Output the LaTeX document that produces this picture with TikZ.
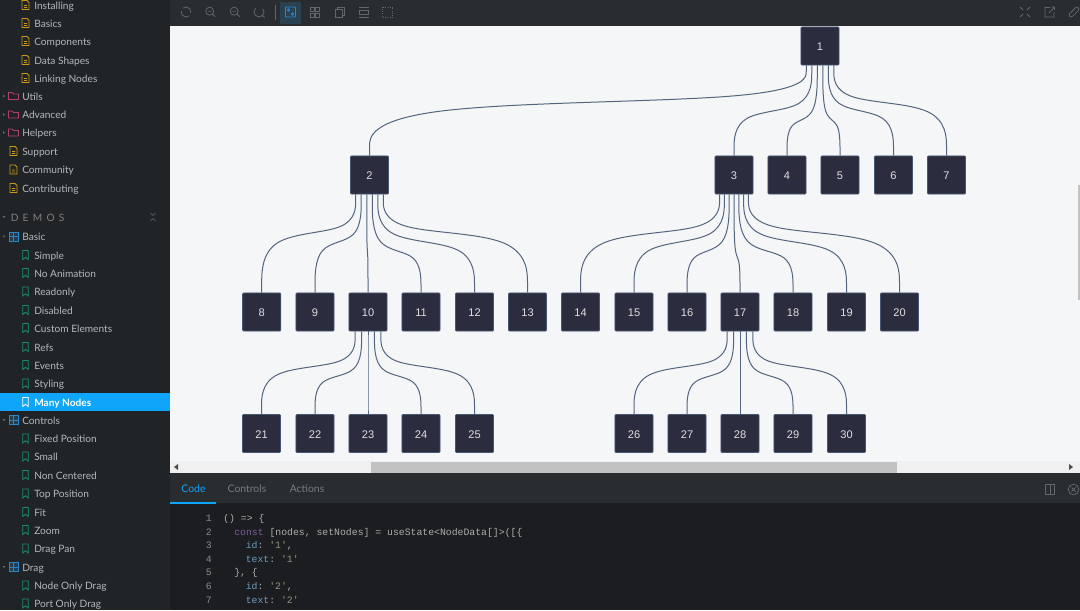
\documentclass[tikz,border=0pt]{standalone}
\usepackage{fontspec}
\setmainfont{Lato}
\setmonofont{Liberation Mono}
\newfontfamily\boxfont{Liberation Sans}
\usetikzlibrary{calc}

\definecolor{sidebg}{HTML}{212427}
\definecolor{barbg}{HTML}{2A2D2F}
\definecolor{codebg}{HTML}{1B1D20}
\definecolor{canvasbg}{HTML}{F5F6F8}
\definecolor{sidetxt}{HTML}{B4B8BC}
\definecolor{tabtxt}{HTML}{777C80}
\definecolor{hilite}{HTML}{0EA5FA}
\definecolor{boxfill}{HTML}{2B2C3E}
\definecolor{boxline}{HTML}{475872}
\definecolor{linkline}{HTML}{55657D}
\definecolor{docicon}{HTML}{C99A1E}
\definecolor{foldicon}{HTML}{B0406F}
\definecolor{markicon}{HTML}{1A8E75}
\definecolor{gridicon}{HTML}{2A86C8}
\definecolor{toolicon}{HTML}{62676B}

\tikzset{
  treebox/.style={draw=boxline,fill=boxfill,line width=0.6pt,rounded corners=0.8pt,minimum size=28.6pt,inner sep=0pt,text=white!88!black,font=\boxfont\fontsize{8.3}{10}\selectfont,text height=7.2pt},
  link/.style={draw=linkline,line width=0.75pt},
  sidetext/.style={anchor=west,inner sep=0pt,text=sidetxt,font=\fontsize{7.6}{10}\selectfont,text height=8pt,text depth=1.6pt},
  tabtext/.style={anchor=center,inner sep=0pt,font=\fontsize{7.8}{10}\selectfont,text=tabtxt},
  codetext/.style={anchor=west,inner sep=0pt,font=\ttfamily\fontsize{7.35}{9}\selectfont,text=white!68!black,text height=7pt,text depth=1.5pt},
  lineno/.style={anchor=east,inner sep=0pt,font=\ttfamily\fontsize{7.35}{9}\selectfont,text=white!55!black,text height=7pt,text depth=1.5pt},
  tool/.style={draw=toolicon,line width=0.6pt},
}

% parent, port fraction, child, height of the horizontal run
\newcommand{\linkto}[4]{
  \draw[link] let \p1=([xshift={(#2-0.5)*28.9pt}]#1.south), \p2=(#3.north), \n1={-0.75pt*#4} in
    (\p1) -- (\x1,{(5*\y1+\n1)/6})
    .. controls (\x1,{(2*\y1+\n1)/3}) and (\x1,{(\y1+2*\n1)/3}) .. ({(5*\x1+\x2)/6},{(\y1+5*\n1)/6})
    .. controls ({(2*\x1+\x2)/3},\n1) and ({(\x1+2*\x2)/3},\n1) .. ({(\x1+5*\x2)/6},{(5*\n1+\y2)/6})
    .. controls (\x2,{(2*\n1+\y2)/3}) and (\x2,{(\n1+2*\y2)/3}) .. (\x2,{(\n1+5*\y2)/6})
    -- (\p2);
}
\newcommand{\docmark}[2]{
  \draw[docicon,line width=0.6pt,shift={(#1,#2)}] (-3.5,-4.5) -- (1.5,-4.5) -- (3.5,-2.5) -- (3.5,4.5) -- (-3.5,4.5) -- cycle (-1.5,0.5) -- (1.5,0.5) (-1.5,2.5) -- (1.5,2.5);
}
\newcommand{\foldmark}[2]{
  \draw[foldicon,line width=0.6pt,shift={(#1,#2)}] (-5,-3.5) -- (-1.5,-3.5) -- (0,-2) -- (5,-2) -- (5,3.5) -- (-5,3.5) -- cycle;
}
\newcommand{\bookmark}[3]{
  \draw[#3,line width=0.6pt,shift={(#1,#2)}] (-2.8,-4.5) -- (2.8,-4.5) -- (2.8,4.5) -- (0,2.3) -- (-2.8,4.5) -- cycle;
}
\newcommand{\gridmark}[2]{
  \draw[gridicon,line width=0.6pt,fill=gridicon!25!sidebg,shift={(#1,#2)}] (-4.5,-4.5) rectangle (4.5,4.5) (0,-4.5) -- (0,4.5) (-4.5,0) -- (4.5,0);
}
\newcommand{\lensmark}[2]{
  \draw[tool,shift={(#1,#2)}] (-0.8,-0.8) circle (4) (2,2) -- (4.8,4.8) (-2.6,-0.8) -- (1,-0.8);
}

\begin{document}
\begin{tikzpicture}[x=0.75pt,y=-0.75pt]
\useasboundingbox (0,0) rectangle (1080,610);

% panels
\fill[sidebg] (0,0) rectangle (170,610);
\fill[barbg] (170,0) rectangle (1080,26);
\fill[canvasbg] (170,26) rectangle (1080,473);
\fill[barbg] (170,473) rectangle (1080,503);
\fill[codebg] (170,503) rectangle (1080,610);

% toolbar
\draw[tool] (186,12) ++(50:5) arc (50:190:5) (186,12) ++(230:5) arc (230:370:5);
\lensmark{210.5}{12}
\lensmark{235}{12}
\draw[tool] (259,12) ++(-40:5) arc (-40:230:5) (262,15) -- (264.5,17.5);
\draw[tool] (275,5) -- (275,20);
\fill[gridicon!22!barbg] (280,2) rectangle (301,24);
\draw[gridicon,line width=0.7pt,rounded corners=0.6pt] (285.5,7) rectangle (295.5,17) (288.5,10) circle (1.2) (292.5,14) circle (1.2);
\draw[tool] (310,7.5) rectangle (314,11) (315.5,7.5) rectangle (319.5,11) (310,13) rectangle (314,17) (315.5,13) rectangle (319.5,17);
\draw[tool] (335,9) rectangle (342,17) (337,9) -- (337,7) -- (344.5,7) -- (344.5,15) -- (342,15);
\draw[tool] (358.5,7) -- (368.5,7) (358.5,17) -- (368.5,17) (359,10) rectangle (368,14.5);
\draw[tool,densely dotted] (382.5,7) rectangle (392.5,17);
\draw[tool] (1020,7) -- (1023,10) (1030,7) -- (1027,10) (1020,17) -- (1023,14) (1030,17) -- (1027,14);
\draw[tool] (1050,7.5) -- (1045,7.5) -- (1045,17) -- (1054,17) -- (1054,12) (1049,13) -- (1054.5,7) (1051,7) -- (1054.5,7) -- (1054.5,10);
\draw[tool,rotate around={-45:(1074,12)},rounded corners=1.5pt] (1072,6) rectangle (1076,18);

% tree boxes
\foreach \id/\xpos/\ypos in {1/820/46,2/369.5/175,3/734/175,4/787/175,5/840/175,6/893.5/175,7/946.5/175,
  8/261.7/312,9/315/312,10/368/312,11/421/312,12/474.5/312,13/527.5/312,14/580.5/312,15/634/312,16/687/312,17/740/312,18/793/312,19/846.5/312,20/899.5/312,
  21/261.5/433.5,22/315/433.5,23/368/433.5,24/421/433.5,25/474.5/433.5,26/634/433.5,27/687/433.5,28/740/433.5,29/793/433.5,30/846.5/433.5}
  \node[treebox] (n\id) at (\xpos,\ypos) {\id};

% links
\foreach \kid/\port/\bend in {2/1/102,3/2/111,4/3/120,5/4/120,6/5/111,7/6/103}
  \linkto{n1}{\port/7}{n\kid}{\bend};
\foreach \kid/\port/\bend in {8/1/233,9/2/242,10/3/251,11/4/251,12/5/242,13/6/233}
  \linkto{n2}{\port/7}{n\kid}{\bend};
\foreach \kid/\port/\bend in {14/1/233,15/2/242,16/3/251,17/4/257,18/5/251,19/6/242,20/7/233}
  \linkto{n3}{\port/8}{n\kid}{\bend};
\foreach \kid/\port/\bend in {21/1/367,22/2/376,23/3/376,24/4/376,25/5/367}
  \linkto{n10}{\port/6}{n\kid}{\bend};
\foreach \kid/\port/\bend in {26/1/367,27/2/376,28/3/376,29/4/376,30/5/367}
  \linkto{n17}{\port/6}{n\kid}{\bend};

% scrollbars
\fill[white!94!black] (170,461) rectangle (1080,473);
\fill[white!76!black] (371,461.5) rectangle (897,472.5);
\fill[white!30!black] (174,467) -- (178,464) -- (178,470) -- cycle;
\fill[white!30!black] (1073,467) -- (1069,464) -- (1069,470) -- cycle;
\fill[white!76!black] (1077.5,185) rectangle (1080,300);

% sidebar
\fill[hilite] (0,393) rectangle (170,411);
\foreach \lab/\ypos [count=\k] in {Installing/5,Basics/23,Components/41,Data Shapes/60,Linking Nodes/78}{
  \docmark{25.5}{\ypos}
  \node[sidetext] (page\k) at (34,\ypos) {\lab};
}
\foreach \lab/\ypos [count=\k] in {Utils/96,Advanced/114.5,Helpers/132.5}{
  \fill[toolicon] (3,\ypos-1.5) -- (5,\ypos) -- (3,\ypos+1.5) -- cycle;
  \foldmark{13.5}{\ypos}
  \node[sidetext] (fold\k) at (22,\ypos) {\lab};
}
\foreach \lab/\ypos [count=\k] in {Support/151,Community/169.5,Contributing/188}{
  \docmark{13.5}{\ypos}
  \node[sidetext] (top\k) at (22,\ypos) {\lab};
}
\node[sidetext,text=white!50!black] (demos) at (10.5,217) {D\hspace{3.2pt}E\hspace{3.2pt}M\hspace{3.2pt}O\hspace{3.2pt}S};
\draw[toolicon,line width=0.5pt] (150.5,213) -- (153,215.5) -- (155.5,213) (150.5,221) -- (153,218.5) -- (155.5,221);
\fill[toolicon] (2.5,216) -- (5.5,216) -- (4,218) -- cycle;
\foreach \lab/\ypos [count=\k] in {Basic/236.5,Controls/420,Drag/567}{
  \fill[toolicon] (2.5,\ypos-1) -- (5.5,\ypos-1) -- (4,\ypos+1) -- cycle;
  \gridmark{13.5}{\ypos}
  \node[sidetext] (group\k) at (22,\ypos) {\lab};
}
\foreach \lab/\ypos [count=\k] in {Simple/255,No Animation/273,Readonly/291.5,Disabled/310,Custom Elements/328,Refs/347,Events/365,Styling/383.5,Fixed Position/438.5,Small/456.5,Non Centered/475,Top Position/493.5,Fit/512,Zoom/530,Drag Pan/548.5,Node Only Drag/585.5,Port Only Drag/603.5}{
  \bookmark{25.5}{\ypos}{markicon}
  \node[sidetext] (demo\k) at (34,\ypos) {\lab};
}
\bookmark{25.5}{402}{white}
\node[sidetext,text=white,font=\bfseries\fontsize{7.6}{10}\selectfont] (manynodes) at (34,402) {Many Nodes};

% tabs
\node[tabtext,text=hilite] (tabcode) at (193.5,489) {Code};
\node[tabtext] (tabcontrols) at (247,489) {Controls};
\node[tabtext] (tabactions) at (307,489) {Actions};
\fill[hilite] (170,502) rectangle (216,503.5);
\draw[tool] (1045,484.5) rectangle (1054,494) (1050.5,484.5) -- (1050.5,494);
\draw[tool] (1073.5,489.5) circle (5.3) (1071.5,487.5) -- (1075.5,491.5) (1071.5,491.5) -- (1075.5,487.5);

% code
\foreach \num/\ypos in {1/518,2/532,3/545,4/559,5/572,6/586,7/599.5}
  \node[lineno] (line\num) at (212,\ypos) {\num};
\node[codetext] (code1) at (223,518) {() => \{};
\node[codetext] (code2) at (234,532) {\textcolor[HTML]{7E5F9E}{const} [nodes, setNodes] = useState<NodeData[]>([\{};
\node[codetext] (code3) at (245.5,545) {\textcolor[HTML]{6C9CBF}{id}: \textcolor[HTML]{8B9A80}{'1'},};
\node[codetext] (code4) at (245.5,559) {\textcolor[HTML]{6C9CBF}{text}: \textcolor[HTML]{8B9A80}{'1'}};
\node[codetext] (code5) at (234,572) {\}, \{};
\node[codetext] (code6) at (245.5,586) {\textcolor[HTML]{6C9CBF}{id}: \textcolor[HTML]{8B9A80}{'2'},};
\node[codetext] (code7) at (245.5,599.5) {\textcolor[HTML]{6C9CBF}{text}: \textcolor[HTML]{8B9A80}{'2'}};
\end{tikzpicture}
\end{document}
